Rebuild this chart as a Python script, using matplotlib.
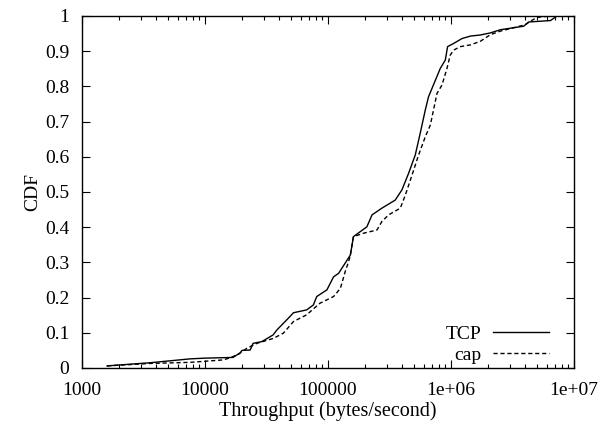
import numpy as np
import matplotlib.pyplot as plt
from matplotlib.ticker import FixedLocator, LogLocator, NullFormatter

plt.rcParams['font.family'] = ['Liberation Serif', 'DejaVu Serif']

# throughput (bytes/second) and CDF values
tcp_x = [1600, 3600, 7600, 10000, 16900, 19300, 20000, 23300, 24600, 29000,
         35800, 38400, 49000, 52400, 67000, 76000, 81000, 98000, 111000,
         122000, 152000, 161000, 168000, 207000, 228000, 274000, 352000,
         399000, 452000, 512000, 562000, 618000, 657000, 700000, 818000,
         899000, 938000, 1050000, 1230000, 1440000, 1730000, 2090000,
         2520000, 3900000, 4280000, 6430000, 7280000]
tcp_y = [0.006, 0.015, 0.026, 0.028, 0.030, 0.043, 0.050, 0.051, 0.070, 0.075,
         0.094, 0.108, 0.146, 0.157, 0.165, 0.179, 0.203, 0.222, 0.259,
         0.269, 0.321, 0.373, 0.378, 0.401, 0.435, 0.454, 0.477,
         0.506, 0.553, 0.605, 0.667, 0.733, 0.771, 0.794, 0.851,
         0.875, 0.913, 0.922, 0.936, 0.943, 0.946, 0.952,
         0.961, 0.971, 0.983, 0.987, 1.0]

cap_x = [1600, 3600, 7600, 14100, 16000, 18700, 21900, 26400, 35900, 43400,
         52400, 67000, 86000, 111000, 126000, 138000, 147000, 152000, 161000,
         195000, 250000, 274000, 311000, 387000, 425000, 482000, 545000,
         618000, 679000, 769000, 845000, 927000, 986000, 1050000, 1190000,
         1440000, 1730000, 2090000, 2520000, 4000000, 4420000, 5000000, 6400000]
cap_y = [0.006, 0.013, 0.016, 0.023, 0.029, 0.039, 0.056, 0.070, 0.084, 0.099,
         0.132, 0.151, 0.184, 0.203, 0.226, 0.274, 0.302, 0.321, 0.373,
         0.383, 0.392, 0.416, 0.435, 0.454, 0.491, 0.548, 0.605,
         0.657, 0.690, 0.780, 0.804, 0.851, 0.889, 0.903, 0.913,
         0.918, 0.928, 0.947, 0.957, 0.975, 0.985, 0.996, 1.0]

x_ticks = [1000, 10000, 100000, 1000000, 10000000]
x_labels = ['1000', '10000', '100000', '1e+06', '1e+07']
y_ticks = [0, 0.1, 0.2, 0.3, 0.4, 0.5, 0.6, 0.7, 0.8, 0.9, 1]
y_labels = ['0', '0.1', '0.2', '0.3', '0.4', '0.5', '0.6', '0.7', '0.8', '0.9', '1']

FS = 14

fig = plt.figure(figsize=(6.02, 4.21), dpi=100)
ax = fig.add_axes([0.1362, 0.1259, 0.8173, 0.8361])

ax.plot(tcp_x, tcp_y, color='black', linewidth=1.0, label='TCP')
ax.plot(cap_x, cap_y, color='black', linewidth=1.0, linestyle=(0, (3, 2)), label='cap')

ax.set_xscale('log')
ax.set_xlim(1000, 1e7)
ax.set_ylim(0, 1)
ax.xaxis.set_major_locator(FixedLocator(x_ticks))
ax.set_xticklabels(x_labels)
ax.xaxis.set_minor_locator(LogLocator(base=10, subs=np.arange(2, 10)))
ax.xaxis.set_minor_formatter(NullFormatter())
ax.set_yticks(y_ticks)
ax.set_yticklabels(y_labels)

ax.tick_params(which='both', direction='in', top=True, right=True,
               labelsize=FS, width=0.8)
ax.tick_params(which='major', length=6)
ax.tick_params(which='minor', length=3)
ax.tick_params(axis='x', which='major', pad=10)
ax.tick_params(axis='y', which='major', pad=9)
for s in ax.spines.values():
    s.set_linewidth(1.0)

ax.set_xlabel('Throughput (bytes/second)', fontsize=14.5, labelpad=2)
ax.set_ylabel('CDF', fontsize=FS, labelpad=3)

leg = ax.legend(loc='lower right', bbox_to_anchor=(0.949, 0.012),
                frameon=False, fontsize=FS, markerfirst=False,
                handlelength=2.9, handletextpad=0.57, labelspacing=0.15,
                borderaxespad=0, borderpad=0)
for t in leg.get_texts():
    t.set_ha('right')

fig.savefig('out.png', dpi=100)
